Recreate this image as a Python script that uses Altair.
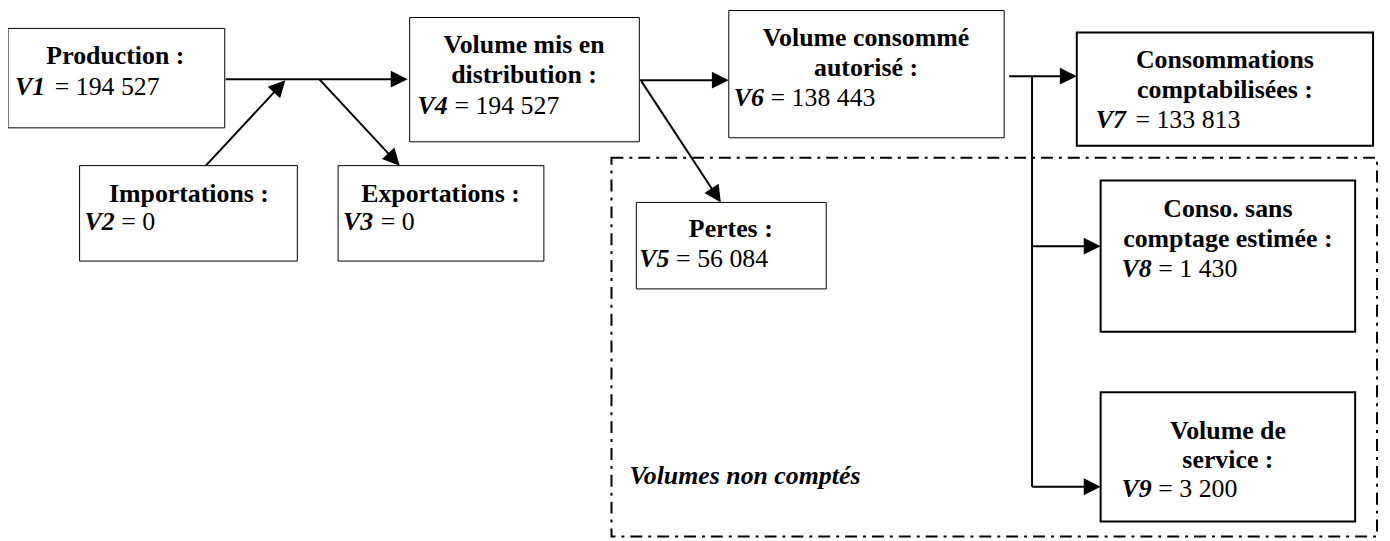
import math
import altair as alt
import pandas as pd

# ---------------- data ----------------
# boxes
box_x0 = [8, 80, 340, 412, 640, 733, 1083, 1107, 1107]
box_x1 = [226, 299, 547, 643, 831, 1010, 1381, 1363, 1363]
box_y0 = [27, 165, 165, 16, 202, 9, 31, 180, 393]
box_y1 = [127, 261, 261, 141, 289, 137, 145, 332, 523]
box_border = [1, 1, 1, 1, 1, 1, 2, 2, 2]

# bold title lines inside the boxes
title_text = ["Production :", "Importations :", "Exportations :",
              "Volume mis en", "distribution :", "Pertes :",
              "Volume consommé", "autorisé :", "Consommations",
              "comptabilisées :", "Conso. sans", "comptage estimée :",
              "Volume de", "service :"]
title_x = [116, 190, 443, 527, 527, 735, 871, 871, 1232, 1232, 1235, 1235, 1235, 1235]
title_y = [63, 202, 202, 52, 82, 237, 45, 75, 67, 97, 217, 247, 440, 469]

# variables and their values
var_name = ["V1", "V2", "V3", "V4", "V5", "V6", "V7", "V8", "V9"]
var_value = [194527, 0, 0, 194527, 56084, 138443, 133813, 1430, 3200]
var_x = [15, 85, 345, 420, 643, 738, 1102, 1128, 1128]
var_y = [94, 230, 230, 113, 267, 105, 127, 277, 498]
value_x = [55, 122, 383, 457, 680, 775, 1142, 1165, 1165]

# connector segments
seg_x0 = [227, 207, 321, 643, 645, 1015, 1038, 1038, 1038]
seg_y0 = [78, 165, 78, 79, 80, 75, 75, 246, 488]
seg_x1 = [410, 287, 402, 733, 725, 1083, 1038, 1107, 1107]
seg_y1 = [78, 79, 165, 79, 202, 75, 488, 246, 488]
seg_arrow = [1, 1, 1, 1, 1, 1, 0, 1, 1]

# dashed "Volumes non comptés" frame
frame_x = [615]
frame_x2 = [1385]
frame_y = [157]
frame_y2 = [538]
note_text = ["Volumes non comptés"]
note_x = [633]
note_y = [485]

# ---------------- tables ----------------
boxes = pd.DataFrame({"x0": box_x0, "x1": box_x1, "y0": box_y0, "y1": box_y1,
                      "sw": box_border})
titles = pd.DataFrame({"t": title_text, "x": title_x, "y": title_y})


def fmt(v):
    return "= " + f"{v:,}".replace(",", " ")


vars_df = pd.DataFrame({"t": var_name, "x": var_x, "y": var_y})
vals_df = pd.DataFrame({"t": [fmt(v) for v in var_value], "x": value_x, "y": var_y})

rows = []
heads = []
for a, b, c, d, arr in zip(seg_x0, seg_y0, seg_x1, seg_y1, seg_arrow):
    dx, dy = c - a, d - b
    L = math.hypot(dx, dy)
    if arr:
        ang = math.degrees(math.atan2(dx, -dy)) % 360
        heads.append({"x": c, "y": d, "angle": ang})
        cx, cy = c - dx / L * 9, d - dy / L * 9
    else:
        cx, cy = c, d
    rows.append({"x0": a, "y0": b, "x1": cx, "y1": cy})
segs = pd.DataFrame(rows)
heads = pd.DataFrame(heads)
frame = pd.DataFrame({"x0": frame_x, "x1": frame_x2, "y0": frame_y, "y1": frame_y2})
note = pd.DataFrame({"t": note_text, "x": note_x, "y": note_y})

W, H = 1382, 533
xs = alt.Scale(domain=[8, 8 + W], nice=False, zero=False)
ys = alt.Scale(domain=[8, 8 + H], nice=False, zero=False, reverse=True)
FONT = "Liberation Serif"
FS = 26


def X(f):
    return alt.X(f, type="quantitative", scale=xs, axis=None)


def Y(f):
    return alt.Y(f, type="quantitative", scale=ys, axis=None)


frame_l = alt.Chart(frame).mark_rect(
    fill=None, stroke="black", strokeWidth=2, strokeDash=[12, 6, 3, 6]
).encode(x=X("x0"), x2="x1", y=Y("y0"), y2="y1")

seg_l = alt.Chart(segs).mark_rule(color="black", strokeWidth=2).encode(
    x=X("x0"), y=Y("y0"), x2="x1", y2="y1")

head_l = alt.Chart(heads).mark_point(
    shape="M0,0L1,2L-1,2Z", filled=True, fill="black", stroke=None,
    size=289, opacity=1
).encode(x=X("x"), y=Y("y"), angle=alt.Angle("angle:Q", scale=None))

box_l = alt.Chart(boxes).mark_rect(fill="white", stroke="black").encode(
    x=X("x0"), x2="x1", y=Y("y0"), y2="y1",
    strokeWidth=alt.StrokeWidth("sw:Q", scale=None))

title_l = alt.Chart(titles).mark_text(
    font=FONT, fontSize=FS, fontWeight="bold", align="center",
    baseline="alphabetic", color="black"
).encode(x=X("x"), y=Y("y"), text="t:N")

var_l = alt.Chart(vars_df).mark_text(
    font=FONT, fontSize=FS, fontWeight="bold", fontStyle="italic",
    align="left", baseline="alphabetic", color="black"
).encode(x=X("x"), y=Y("y"), text="t:N")

val_l = alt.Chart(vals_df).mark_text(
    font=FONT, fontSize=FS, align="left", baseline="alphabetic", color="black"
).encode(x=X("x"), y=Y("y"), text="t:N")

note_l = alt.Chart(note).mark_text(
    font=FONT, fontSize=FS, fontWeight="bold", fontStyle="italic",
    align="left", baseline="alphabetic", color="black"
).encode(x=X("x"), y=Y("y"), text="t:N")

chart = alt.layer(
    frame_l, seg_l, head_l, box_l, title_l, var_l, val_l, note_l
).properties(
    width=W, height=H, padding=0,
    autosize=alt.AutoSizeParams(type="none"), background="white"
).configure_view(stroke=None)

chart.save("out.html", embed_options={"renderer": "svg", "actions": False})
